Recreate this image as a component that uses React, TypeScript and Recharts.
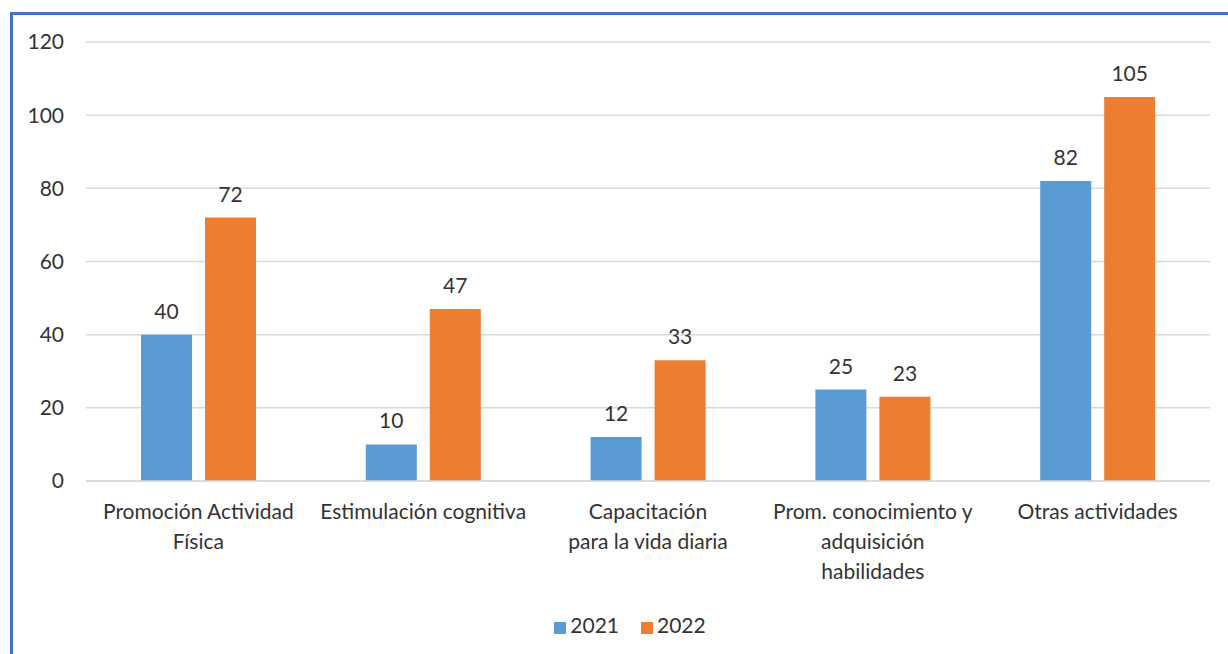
import React from 'react';
import { BarChart, Bar, XAxis, YAxis, CartesianGrid, Legend, LabelList } from 'recharts';

const categories = [
  'Promoción Actividad Física',
  'Estimulación cognitiva',
  'Capacitación para la vida diaria',
  'Prom. conocimiento y adquisición habilidades',
  'Otras actividades',
];
const tickLines = [
  ['Promoción Actividad', 'Física'],
  ['Estimulación cognitiva'],
  ['Capacitación', 'para la vida diaria'],
  ['Prom. conocimiento y', 'adquisición', 'habilidades'],
  ['Otras actividades'],
];
const values2021 = [40, 10, 12, 25, 82];
const values2022 = [72, 47, 33, 23, 105];
const yTicks = [0, 20, 40, 60, 80, 100, 120];

const data = categories.map((c, i) => ({
  name: c,
  '2021': values2021[i],
  '2022': values2022[i],
}));

const FONT = 'Lato, "Open Sans", sans-serif';
const TEXT = '#333333';
const FS = 21;

function CategoryTick({ x, y, index }: any) {
  const lines = tickLines[index] || [];
  return (
    <g transform={`translate(${x},${y})`}>
      {lines.map((l, k) => (
        <text key={k} x={0} y={k * 30} dy={30} textAnchor="middle" fill={TEXT} fontSize={FS} fontFamily={FONT}>
          {l}
        </text>
      ))}
    </g>
  );
}

export default function App() {
  return (
    <div style={{ position: 'absolute', left: 0, top: 0, width: 1228, height: 654, background: '#fff', overflow: 'hidden' }}>
      <div
        style={{
          position: 'absolute',
          left: 10,
          top: 12,
          width: 1240,
          height: 660,
          borderTop: '3px solid #4472C4',
          borderLeft: '3px solid #4472C4',
        }}
      />
      <div style={{ position: 'absolute', left: 0, top: 0 }}>
        <BarChart
          width={1228}
          height={654}
          data={data}
          margin={{ top: 42, right: 18, left: 0, bottom: 0 }}
          barSize={51}
          barGap={13}
        >
          <CartesianGrid vertical={false} stroke="#d9d9d9" strokeWidth={1.5} />
          <YAxis
            width={86}
            domain={[0, 120]}
            ticks={yTicks}
            axisLine={false}
            tickLine={false}
            tickMargin={16}
            tick={{ fill: TEXT, fontSize: FS, fontFamily: FONT }}
          />
          <XAxis
            dataKey="name"
            height={128}
            interval={0}
            axisLine={{ stroke: '#d9d9d9', strokeWidth: 1.5 }}
            tickLine={false}
            tick={<CategoryTick />}
          />
          <Legend
            verticalAlign="bottom"
            iconType="square"
            iconSize={12}
            height={45}
            wrapperStyle={{ fontFamily: FONT, fontSize: FS, left: 36, bottom: -3 }}
            formatter={(v: string) => <span style={{ color: TEXT, marginRight: 12 }}>{v}</span>}
          />
          <Bar dataKey="2021" fill="#5B9BD5" isAnimationActive={false}>
            <LabelList dataKey="2021" position="top" offset={16} fill={TEXT} fontSize={FS} fontFamily={FONT} />
          </Bar>
          <Bar dataKey="2022" fill="#ED7D31" isAnimationActive={false}>
            <LabelList dataKey="2022" position="top" offset={16} fill={TEXT} fontSize={FS} fontFamily={FONT} />
          </Bar>
        </BarChart>
      </div>
    </div>
  );
}
